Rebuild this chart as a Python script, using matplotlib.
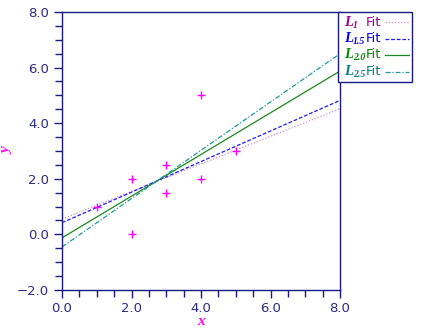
import matplotlib
matplotlib.use("Agg")
import matplotlib.pyplot as plt
import numpy as np
from matplotlib.ticker import MultipleLocator
from matplotlib.lines import Line2D

# data points
x_pts = [1, 2, 2, 3, 3, 4, 4, 5]
y_pts = [1.0, 2.0, 0.0, 2.5, 1.5, 5.0, 2.0, 3.0]

# fitted lines
fit_names = ["1", "1.5", "2.0", "2.5"]
fit_intercepts = [0.55, 0.42, -0.125, -0.45]
fit_ends = [4.52, 4.82, 5.875, 6.5]  # value at x = 8
fit_line_colors = ["#d08ad0", "#1a1aff", "#1a8a1a", "#1a9a9a"]
fit_text_colors = ["#990099", "#0000ee", "#008800", "#008080"]
fit_styles = [(0, (1, 1.5)), (0, (3, 1.5)), "-", (0, (4, 1.5, 1, 1.5))]

NAVY = "#1a1a80"
SERIF = ["Liberation Serif", "DejaVu Serif"]

fig = plt.figure(figsize=(4.22, 3.34), dpi=100)
ax = fig.add_axes([62 / 422, 1 - 290 / 334, (340 - 62) / 422, (290 - 12) / 334])

xs = np.array([0.0, 8.0])
for b0, b8, lc, ls in zip(fit_intercepts, fit_ends, fit_line_colors, fit_styles):
    ax.plot(xs, [b0, b8], color=lc, linestyle=ls, linewidth=0.9)

ax.plot(x_pts, y_pts, linestyle="none", marker="+", color="#ff00ff",
        markersize=6, markeredgewidth=1.0)

ax.set_xlim(0, 8)
ax.set_ylim(-2, 8)
ax.xaxis.set_major_locator(MultipleLocator(2))
ax.xaxis.set_minor_locator(MultipleLocator(0.5))
ax.yaxis.set_major_locator(MultipleLocator(2))
ax.yaxis.set_minor_locator(MultipleLocator(0.5))
ax.xaxis.set_major_formatter(lambda v, p: f"{v:.1f}".replace("-", "\u2212"))
ax.yaxis.set_major_formatter(lambda v, p: f"{v:.1f}".replace("-", "\u2212"))
ax.tick_params(which="both", direction="out", color=NAVY, labelcolor="#2a2a88",
               labelsize=9.5, width=1.0)
ax.tick_params(which="major", length=6)
ax.tick_params(which="minor", length=5)
ax.tick_params(axis="x", pad=3)
for s in ax.spines.values():
    s.set_color(NAVY)
    s.set_linewidth(1.0)

ax.set_xlabel("x", color="#ff00ff", fontsize=11, family=SERIF,
              style="italic", fontweight="bold")
ax.set_ylabel("y", color="#ff00ff", fontsize=11, family=SERIF,
              style="italic", fontweight="bold")
ax.xaxis.set_label_coords(0.5, -(315 - 290) / 278)
ax.yaxis.set_label_coords(-(62 - 14) / 278, 0.5)

# legend box drawn by hand to overlap the right spine like the original
lx0, ly0, lx1, ly1 = 338 / 422, 1 - 82 / 334, 412 / 422, 1 - 12 / 334
box = plt.Rectangle((lx0, ly0), lx1 - lx0, ly1 - ly0, transform=fig.transFigure,
                    facecolor="white", edgecolor=NAVY, linewidth=1.0, zorder=5)
fig.add_artist(box)
for i, (name, tc, lc, ls) in enumerate(zip(fit_names, fit_text_colors,
                                            fit_line_colors, fit_styles)):
    yy = 1 - (22 + i * 16.5) / 334
    fig.text(344 / 422, yy, "L", color=tc, fontsize=10.5, family=SERIF,
             style="italic", fontweight="bold", va="center", ha="left", zorder=6)
    fig.text(353 / 422, yy - 3 / 334, name, color=tc, fontsize=7,
             family=SERIF, style="italic", fontweight="bold",
             va="center", ha="left", zorder=6)
    fig.text(366 / 422, yy, "Fit", color=tc, fontsize=9.5, va="center",
             ha="left", zorder=6)
    fig.add_artist(Line2D([385 / 422, 409 / 422], [yy, yy], color=lc,
                          linestyle=ls, linewidth=0.9,
                          transform=fig.transFigure, zorder=6))

fig.savefig("out.png", dpi=100)
